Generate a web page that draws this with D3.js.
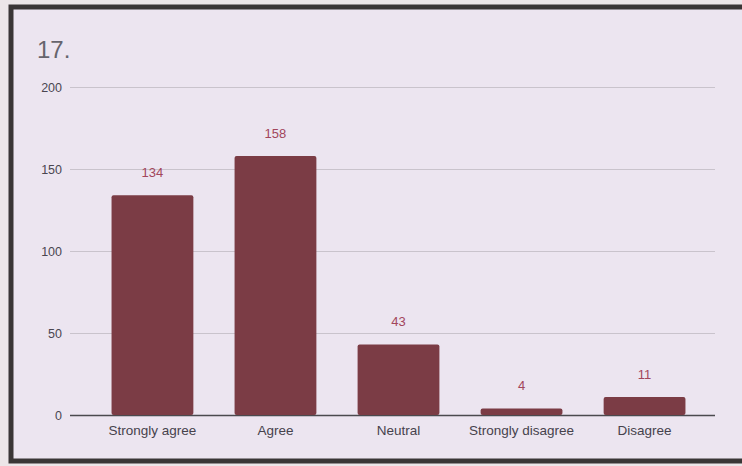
<!DOCTYPE html>
<html><head><meta charset="utf-8">
<script src="https://cdn.jsdelivr.net/npm/d3@7"></script>
<style>html,body{margin:0;padding:0;background:#ece8ec;}svg{display:block;}</style>
</head><body>
<svg id="c" width="742" height="466"></svg>
<script>
const categories = ["Strongly agree", "Agree", "Neutral", "Strongly disagree", "Disagree"];
const values = [134, 158, 43, 4, 11];
const yTicks = [0, 50, 100, 150, 200];
const title = "17.";

const svg = d3.select("#c");
// frame / panel
svg.append("rect").attr("x", 0).attr("y", 0).attr("width", 742).attr("height", 466).attr("fill", "#ece6e8");
svg.append("rect").attr("x", 11).attr("y", 7).attr("width", 740).attr("height", 454)
  .attr("fill", "#ece5f0").attr("stroke", "#3a3636").attr("stroke-width", 5);

const y = d3.scaleLinear().domain([0, 200]).range([415, 87]);
const x = d3.scaleBand().domain(categories).range([91, 706]).paddingInner(0.335).paddingOuter(0.167);

svg.append("text").attr("x", 37).attr("y", 58).text(title)
  .attr("font-family", "Arial, 'Liberation Sans', sans-serif").attr("font-size", 24).attr("fill", "#66646c");

// grid
const gridG = svg.append("g").attr("transform", "translate(70,0)")
  .call(d3.axisLeft(y).tickValues(yTicks).tickSize(-645).tickFormat(d3.format("d")).tickPadding(8));
gridG.select(".domain").remove();
gridG.selectAll(".tick line").attr("stroke", d => d === 0 ? "#4a4a4e" : "#c9c3cc").attr("stroke-width", d => d === 0 ? 1.3 : 1);
gridG.selectAll(".tick text").attr("font-family", "Arial, 'Liberation Sans', sans-serif").attr("font-size", 12.5).attr("fill", "#4a4650");

// bars
svg.append("g").selectAll("rect").data(values).join("rect")
  .attr("x", (d, i) => x(categories[i]))
  .attr("y", d => y(d))
  .attr("width", x.bandwidth())
  .attr("height", d => y(0) - y(d))
  .attr("rx", 2)
  .attr("fill", "#7b3c45");

// value labels
svg.append("g").selectAll("text").data(values).join("text")
  .attr("x", (d, i) => x(categories[i]) + x.bandwidth() / 2)
  .attr("y", d => y(d) - 18)
  .attr("text-anchor", "middle")
  .attr("font-family", "Arial, 'Liberation Sans', sans-serif").attr("font-size", 13)
  .attr("fill", "#a2465c")
  .text(d => d);

// x axis labels
const xAxis = svg.append("g").attr("transform", "translate(0,415)")
  .call(d3.axisBottom(x).tickSize(0).tickPadding(10));
xAxis.select(".domain").remove();
xAxis.selectAll(".tick text").attr("font-family", "Arial, 'Liberation Sans', sans-serif").attr("font-size", 13.5).attr("fill", "#46424c");
</script>
</body></html>
